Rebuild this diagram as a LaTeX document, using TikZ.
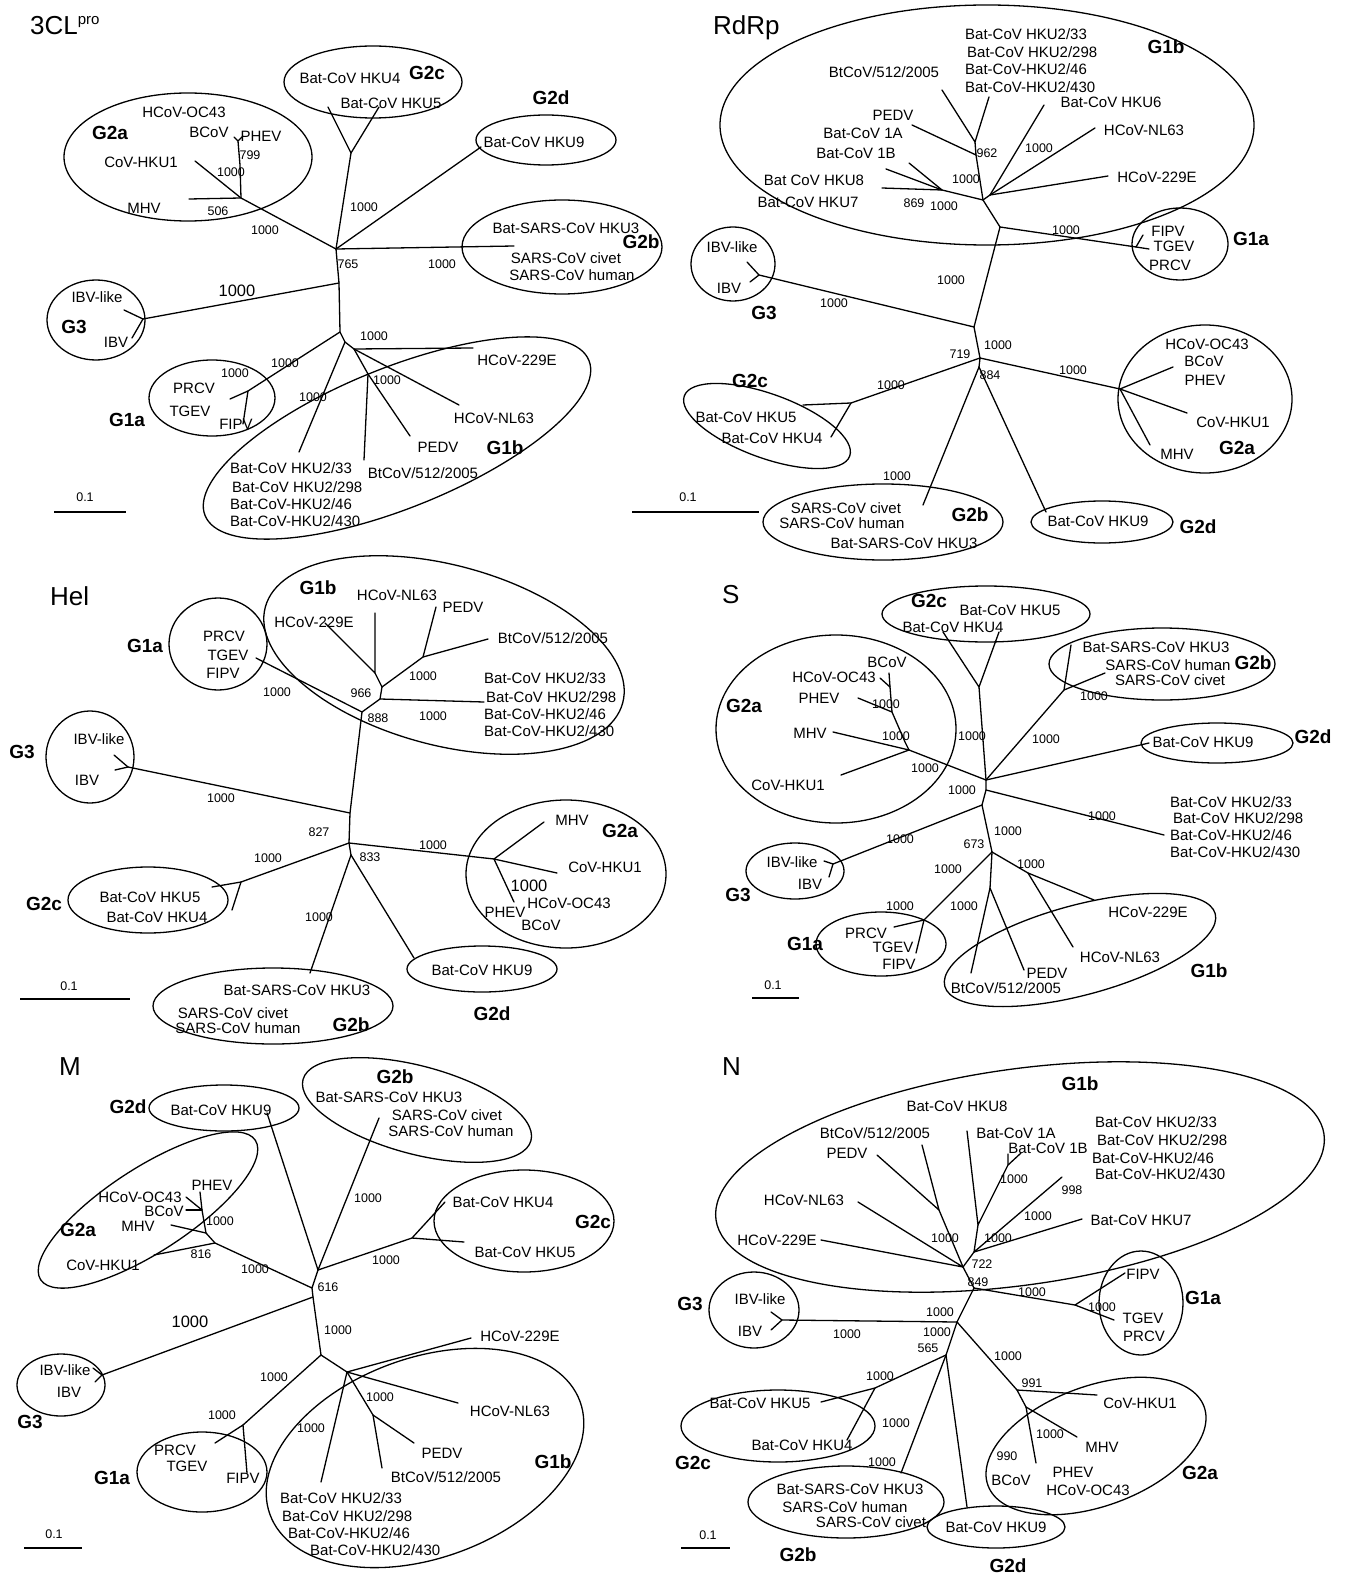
\documentclass[tikz,border=0pt]{standalone}
\usepackage{fontspec}
\setmainfont{Liberation Sans}
\newcommand\mylab[3]{\node[lbl] (#1) at (#2) {#3};}
\newcommand\mylabw[3]{\node[lbl,anchor=west] (#1) at (#2) {#3};}
\newcommand\mynum[3]{\node[num] (#1) at (#2) {#3};}
\newcommand\mygrp[3]{\node[grp] (#1) at (#2) {#3};}
\tikzset{
  br/.style={line width=1.3pt, line cap=round, line join=round},
  ell/.style={line width=1.3pt},
  lbl/.style={font=\fontsize{15}{17}\selectfont, inner sep=0pt},
  num/.style={font=\fontsize{12.5}{14}\selectfont, inner sep=0pt},
  bignum/.style={font=\fontsize{16.5}{18}\selectfont, inner sep=0pt},
  grp/.style={font=\fontsize{19}{21}\selectfont\bfseries, inner sep=0pt},
  ttl/.style={font=\fontsize{26}{28}\selectfont, inner sep=0pt, anchor=base west},
}
\begin{document}
\begin{tikzpicture}[x=1pt,y=-1pt]
\fill[white] (0,0) rectangle (1346,1578);
\useasboundingbox (0,0) rectangle (1346,1578);

%%%%%%%%%%%%%%%% Panel 1: 3CLpro
\node[ttl] (t1) at (30,35) {3CL{\fontsize{15}{17}\selectfont\raisebox{10pt}{pro}}};
\coordinate (a-A) at (336,249);
\coordinate (a-B) at (339,283);
\coordinate (a-C) at (340,332);
\coordinate (a-J1) at (241,198);
\coordinate (a-hku1) at (195,161);
\coordinate (a-mhv) at (189,199);
\coordinate (a-V1) at (240,165);
\coordinate (a-V2) at (238,141);
\coordinate (a-bcov) at (234,137);
\coordinate (a-phev) at (243,136);
\coordinate (a-K) at (351,153);
\coordinate (a-hku4) at (328,107);
\coordinate (a-hku5) at (379,107);
\coordinate (a-hku9) at (481,147);
\coordinate (a-sars) at (514,246);
\coordinate (a-G3) at (143,319);
\coordinate (a-ibvl) at (124,310);
\coordinate (a-ibv) at (132,338);
\coordinate (a-G1a) at (248,391);
\coordinate (a-prcv) at (230,399);
\coordinate (a-fipv) at (243,424);
\coordinate (a-D) at (345,342);
\coordinate (a-E) at (354,349);
\coordinate (a-F) at (368,374);
\coordinate (a-229e) at (473,348);
\coordinate (a-nl63) at (459,405);
\coordinate (a-pedv) at (410,436);
\coordinate (a-bt512) at (364,460);
\coordinate (a-hku2) at (299,452);
\draw[br] (a-hku1) -- (a-J1) -- (a-A) -- (a-B) -- (a-C) -- (a-D) -- (a-hku2);
\draw[br] (a-mhv) -- (a-J1) -- (a-V1) -- (a-V2) -- (a-bcov);
\draw[br] (a-V2) -- (a-phev);
\draw[br] (a-A) -- (a-K) -- (a-hku4);
\draw[br] (a-K) -- (a-hku5);
\draw[br] (a-A) -- (a-hku9);
\draw[br] (a-A) -- (a-sars);
\draw[br] (a-B) -- (a-G3) -- (a-ibvl);
\draw[br] (a-G3) -- (a-ibv);
\draw[br] (a-C) -- (a-G1a) -- (a-prcv);
\draw[br] (a-G1a) -- (a-fipv);
\draw[br] (a-D) -- (a-E) -- (a-229e);
\draw[br] (a-E) -- (a-nl63);
\draw[br] (a-E) -- (a-F) -- (a-pedv);
\draw[br] (a-F) -- (a-bt512);
\draw[ell] (188,157) ellipse [x radius=124pt, y radius=64pt];
\draw[ell] (373,82) ellipse [x radius=89pt, y radius=36pt];
\draw[ell] (546,140) ellipse [x radius=70pt, y radius=25pt];
\draw[ell] (562,247) ellipse [x radius=100pt, y radius=47pt];
\draw[ell] (96,320) ellipse [x radius=49pt, y radius=40pt];
\draw[ell] (212,398) ellipse [x radius=63pt, y radius=38pt];
\draw[ell, rotate around={22:(397,438)}] (397,438) ellipse [x radius=207pt, y radius=70pt];
\mylab{a-l1}{184,112}{HCoV-OC43}
\mylab{a-l2}{209,132}{BCoV}
\mylab{a-l3}{261,136}{PHEV}
\mylab{a-l4}{141,162}{CoV-HKU1}
\mylab{a-l5}{144,208}{MHV}
\mygrp{a-g1}{110,133}{G2a}
\mynum{a-n1}{250,155}{799}
\mynum{a-n2}{231,172}{1000}
\mynum{a-n3}{218,211}{506}
\mynum{a-n4}{265,230}{1000}
\mynum{a-n5}{364,207}{1000}
\mynum{a-n6}{348,264}{765}
\mynum{a-n7}{442,264}{1000}
\mylab{a-l6}{350,78}{Bat-CoV HKU4}
\mygrp{a-g2}{427,73}{G2c}
\mylab{a-l7}{391,103}{Bat-CoV HKU5}
\mygrp{a-g3}{551,98}{G2d}
\mylab{a-l8}{534,142}{Bat-CoV HKU9}
\mylab{a-l9}{566,228}{Bat-SARS-CoV HKU3}
\mylab{a-l10}{566,258}{SARS-CoV civet}
\mylab{a-l11}{572,275}{SARS-CoV human}
\mygrp{a-g4}{641,242}{G2b}
\mylab{a-l12}{97,297}{IBV-like}
\mylab{a-l13}{116,342}{IBV}
\mygrp{a-g5}{74,327}{G3}
\node[bignum] (a-n8) at (237,291) {1000};
\mynum{a-n9}{285,363}{1000}
\mynum{a-n10}{235,373}{1000}
\mylab{a-l14}{194,388}{PRCV}
\mylab{a-l15}{190,411}{TGEV}
\mylab{a-l16}{236,424}{FIPV}
\mygrp{a-g6}{127,420}{G1a}
\mylab{a-l17}{517,360}{HCoV-229E}
\mylab{a-l18}{494,418}{HCoV-NL63}
\mylab{a-l19}{438,447}{PEDV}
\mygrp{a-g7}{505,448}{G1b}
\mylab{a-l20}{423,473}{BtCoV/512/2005}
\mylabw{a-l21}{230,468}{Bat-CoV HKU2/33}
\mylabw{a-l22}{232,487}{Bat-CoV HKU2/298}
\mylabw{a-l23}{230,504}{Bat-CoV-HKU2/46}
\mylabw{a-l24}{230,521}{Bat-CoV-HKU2/430}
\mynum{a-n11}{313,397}{1000}
\mynum{a-n12}{387,380}{1000}
\mynum{a-n13}{374,336}{1000}
\coordinate (a-s1) at (54,512);
\coordinate (a-s2) at (126,512);
\draw[br, line cap=butt] (a-s1) -- (a-s2);
\mynum{a-sc}{85,497}{0.1}

%%%%%%%%%%%%%%%% Panel 2: RdRp
\node[ttl] (t2) at (713,35) {RdRp};
\coordinate (b-M1) at (983,200);
\coordinate (b-M1h) at (990,195);
\coordinate (b-M2) at (1000,227);
\coordinate (b-Q1) at (975,142);
\coordinate (b-bt512) at (942,90);
\coordinate (b-hku2) at (989,97);
\coordinate (b-Q2) at (976,155);
\coordinate (b-pedv) at (912,125);
\coordinate (b-hku6) at (1044,105);
\coordinate (b-nl63) at (1095,128);
\coordinate (b-229e) at (1108,176);
\coordinate (b-L1) at (942,190);
\coordinate (b-hku7) at (882,188);
\coordinate (b-hku8) at (886,169);
\coordinate (b-1ab) at (909,163);
\coordinate (b-G1a) at (1136,247);
\coordinate (b-fipv) at (1143,235);
\coordinate (b-tgev) at (1149,249);
\coordinate (b-S1) at (974,327);
\coordinate (b-G3) at (759,275);
\coordinate (b-ibvl) at (747,262);
\coordinate (b-ibv) at (750,282);
\coordinate (b-N) at (980,358);
\coordinate (b-N2) at (979,367);
\coordinate (b-G2a) at (1120,389);
\coordinate (b-bcov) at (1173,367);
\coordinate (b-hku1) at (1187,413);
\coordinate (b-mhv) at (1150,445);
\coordinate (b-G2c) at (851,403);
\coordinate (b-hku5) at (803,405);
\coordinate (b-hku4) at (831,437);
\coordinate (b-sars) at (923,505);
\coordinate (b-hku9) at (1046,512);
\draw[br] (b-bt512) -- (b-Q1) -- (b-hku2);
\draw[br] (b-Q1) -- (b-Q2) -- (b-pedv);
\draw[br] (b-Q2) -- (b-M1) -- (b-M2) -- (b-S1) -- (b-N) -- (b-N2);
\draw[br] (b-M1) -- (b-M1h) -- (b-hku6);
\draw[br] (b-M1h) -- (b-nl63);
\draw[br] (b-M1h) -- (b-229e);
\draw[br] (b-M1) -- (b-L1) -- (b-hku7);
\draw[br] (b-L1) -- (b-hku8);
\draw[br] (b-L1) -- (b-1ab);
\draw[br] (b-M2) -- (b-G1a) -- (b-fipv);
\draw[br] (b-G1a) -- (b-tgev);
\draw[br] (b-S1) -- (b-G3) -- (b-ibvl);
\draw[br] (b-G3) -- (b-ibv);
\draw[br] (b-N) -- (b-G2a) -- (b-bcov);
\draw[br] (b-G2a) -- (b-hku1);
\draw[br] (b-G2a) -- (b-mhv);
\draw[br] (b-N) -- (b-G2c) -- (b-hku5);
\draw[br] (b-G2c) -- (b-hku4);
\draw[br] (b-N2) -- (b-sars);
\draw[br] (b-N2) -- (b-hku9);
\draw[ell] (987,125) ellipse [x radius=267pt, y radius=120pt];
\draw[ell] (1180,244) ellipse [x radius=48pt, y radius=36pt];
\draw[ell] (733,264) ellipse [x radius=42pt, y radius=37pt];
\draw[ell] (1205,399) ellipse [x radius=87pt, y radius=74pt];
\draw[ell, rotate around={-20:(767,426)}] (767,426) ellipse [x radius=88pt, y radius=32pt];
\draw[ell] (883,522) ellipse [x radius=120pt, y radius=38pt];
\draw[ell] (1102,522) ellipse [x radius=71pt, y radius=21pt];
\mylabw{b-l1}{965,34}{Bat-CoV HKU2/33}
\mylabw{b-l2}{967,52}{Bat-CoV HKU2/298}
\mylabw{b-l3}{965,69}{Bat-CoV-HKU2/46}
\mylabw{b-l4}{965,87}{Bat-CoV-HKU2/430}
\mygrp{b-g1}{1166,47}{G1b}
\mylab{b-l5}{884,72}{BtCoV/512/2005}
\mylab{b-l6}{1111,102}{Bat-CoV HKU6}
\mylab{b-l7}{893,115}{PEDV}
\mylab{b-l8}{863,133}{Bat-CoV 1A}
\mylab{b-l9}{856,153}{Bat-CoV 1B}
\mylab{b-l10}{1144,130}{HCoV-NL63}
\mylab{b-l11}{814,180}{Bat CoV HKU8}
\mylab{b-l12}{1157,177}{HCoV-229E}
\mylab{b-l13}{808,202}{Bat-CoV HKU7}
\mynum{b-n1}{987,153}{962}
\mynum{b-n2}{1039,148}{1000}
\mynum{b-n3}{966,179}{1000}
\mynum{b-n4}{914,203}{869}
\mynum{b-n5}{944,206}{1000}
\mynum{b-n6}{1066,230}{1000}
\mylab{b-l14}{1168,231}{FIPV}
\mylab{b-l15}{1174,246}{TGEV}
\mylab{b-l16}{1170,265}{PRCV}
\mygrp{b-g2}{1251,239}{G1a}
\mylab{b-l17}{732,247}{IBV-like}
\mylab{b-l18}{729,288}{IBV}
\mygrp{b-g3}{764,313}{G3}
\mynum{b-n7}{834,303}{1000}
\mynum{b-n8}{951,280}{1000}
\mynum{b-n9}{960,354}{719}
\mynum{b-n10}{998,345}{1000}
\mynum{b-n11}{990,375}{884}
\mynum{b-n12}{1073,370}{1000}
\mylab{b-l19}{1207,344}{HCoV-OC43}
\mylab{b-l20}{1204,361}{BCoV}
\mylab{b-l21}{1205,380}{PHEV}
\mylab{b-l22}{1233,422}{CoV-HKU1}
\mylab{b-l23}{1177,454}{MHV}
\mygrp{b-g4}{1237,448}{G2a}
\mynum{b-n13}{891,385}{1000}
\mylab{b-l24}{746,417}{Bat-CoV HKU5}
\mylab{b-l25}{772,438}{Bat-CoV HKU4}
\mygrp{b-g5}{750,381}{G2c}
\mynum{b-n14}{897,476}{1000}
\mylab{b-l26}{846,508}{SARS-CoV civet}
\mylab{b-l27}{842,523}{SARS-CoV human}
\mylab{b-l28}{904,543}{Bat-SARS-CoV HKU3}
\mygrp{b-g6}{970,515}{G2b}
\mylab{b-l29}{1098,521}{Bat-CoV HKU9}
\mygrp{b-g7}{1198,527}{G2d}
\coordinate (b-s1) at (632,512);
\coordinate (b-s2) at (759,512);
\draw[br, line cap=butt] (b-s1) -- (b-s2);
\mynum{b-sc}{688,497}{0.1}

%%%%%%%%%%%%%%%% Panel 3: Hel
\node[ttl] (t3) at (50,605) {Hel};
\coordinate (c-H1) at (380,699);
\coordinate (c-hku2) at (484,702);
\coordinate (c-H2) at (382,687);
\coordinate (c-H2a) at (375,673);
\coordinate (c-nl63) at (375,613);
\coordinate (c-229e) at (325,623);
\coordinate (c-H3) at (423,657);
\coordinate (c-pedv) at (436,607);
\coordinate (c-bt512) at (488,639);
\coordinate (c-H0) at (362,712);
\coordinate (c-G1a) at (256,658);
\coordinate (c-T1) at (350,813);
\coordinate (c-G3) at (128,767);
\coordinate (c-ibvl) at (114,755);
\coordinate (c-ibv) at (115,770);
\coordinate (c-T2) at (349,843);
\coordinate (c-G2a) at (494,859);
\coordinate (c-mhv) at (544,822);
\coordinate (c-hku1) at (557,873);
\coordinate (c-oc43) at (514,902);
\coordinate (c-G2c) at (241,882);
\coordinate (c-hku5) at (212,887);
\coordinate (c-hku4) at (232,910);
\coordinate (c-T3) at (351,855);
\coordinate (c-sars) at (310,973);
\coordinate (c-hku9) at (414,958);
\draw[br] (c-229e) -- (c-H2a) -- (c-nl63);
\draw[br] (c-H2a) -- (c-H2) -- (c-H3) -- (c-pedv);
\draw[br] (c-H3) -- (c-bt512);
\draw[br] (c-H2) -- (c-H1) -- (c-hku2);
\draw[br] (c-H1) -- (c-H0) -- (c-G1a);
\draw[br] (c-H0) -- (c-T1) -- (c-T2) -- (c-T3);
\draw[br] (c-T1) -- (c-G3) -- (c-ibvl);
\draw[br] (c-G3) -- (c-ibv);
\draw[br] (c-T2) -- (c-G2a) -- (c-mhv);
\draw[br] (c-G2a) -- (c-hku1);
\draw[br] (c-G2a) -- (c-oc43);
\draw[br] (c-T2) -- (c-G2c) -- (c-hku5);
\draw[br] (c-G2c) -- (c-hku4);
\draw[br] (c-T3) -- (c-sars);
\draw[br] (c-T3) -- (c-hku9);
\draw[ell, rotate around={-15:(444,655)}] (444,655) ellipse [x radius=185pt, y radius=90pt];
\draw[ell] (218,644) ellipse [x radius=49pt, y radius=46pt];
\draw[ell] (90,757) ellipse [x radius=44pt, y radius=46pt];
\draw[ell] (566,874) ellipse [x radius=100pt, y radius=74pt];
\draw[ell] (148,900) ellipse [x radius=80pt, y radius=33pt];
\draw[ell] (273,1006) ellipse [x radius=120pt, y radius=38pt];
\draw[ell] (482,969) ellipse [x radius=75pt, y radius=23pt];
\mygrp{c-g1}{318,588}{G1b}
\mylab{c-l1}{397,595}{HCoV-NL63}
\mylab{c-l2}{463,607}{PEDV}
\mylab{c-l3}{314,622}{HCoV-229E}
\mylab{c-l4}{553,638}{BtCoV/512/2005}
\mylabw{c-l5}{484,678}{Bat-CoV HKU2/33}
\mylabw{c-l6}{486,697}{Bat-CoV HKU2/298}
\mylabw{c-l7}{484,714}{Bat-CoV-HKU2/46}
\mylabw{c-l8}{484,731}{Bat-CoV-HKU2/430}
\mynum{c-n1}{423,676}{1000}
\mynum{c-n2}{361,693}{966}
\mynum{c-n3}{378,718}{888}
\mynum{c-n4}{433,716}{1000}
\mynum{c-n5}{277,692}{1000}
\mylab{c-l9}{224,636}{PRCV}
\mylab{c-l10}{228,655}{TGEV}
\mylab{c-l11}{223,673}{FIPV}
\mygrp{c-g2}{145,646}{G1a}
\mylab{c-l12}{99,739}{IBV-like}
\mylab{c-l13}{87,780}{IBV}
\mygrp{c-g3}{22,752}{G3}
\mynum{c-n6}{221,798}{1000}
\mynum{c-n7}{319,832}{827}
\mynum{c-n8}{433,845}{1000}
\mynum{c-n9}{268,858}{1000}
\mynum{c-n10}{370,857}{833}
\mylab{c-l14}{572,820}{MHV}
\mygrp{c-g4}{620,831}{G2a}
\mylab{c-l15}{605,867}{CoV-HKU1}
\node[bignum] (c-n11) at (529,886) {1000};
\mylab{c-l16}{569,903}{HCoV-OC43}
\mylab{c-l17}{505,912}{PHEV}
\mylab{c-l18}{541,925}{BCoV}
\mylab{c-l19}{150,897}{Bat-CoV HKU5}
\mylab{c-l20}{157,917}{Bat-CoV HKU4}
\mygrp{c-g5}{44,904}{G2c}
\mynum{c-n12}{319,917}{1000}
\mylab{c-l21}{297,990}{Bat-SARS-CoV HKU3}
\mylab{c-l22}{233,1013}{SARS-CoV civet}
\mylab{c-l23}{238,1028}{SARS-CoV human}
\mygrp{c-g6}{351,1025}{G2b}
\mylab{c-l24}{482,970}{Bat-CoV HKU9}
\mygrp{c-g7}{492,1014}{G2d}
\coordinate (c-s1) at (20,999);
\coordinate (c-s2) at (130,999);
\draw[br, line cap=butt] (c-s1) -- (c-s2);
\mynum{c-sc}{69,986}{0.1}

%%%%%%%%%%%%%%%% Panel 4: S
\node[ttl] (t4) at (722,603) {S};
\coordinate (d-Z) at (986,780);
\coordinate (d-Zb) at (986,790);
\coordinate (d-Z2) at (982,805);
\coordinate (d-Z3) at (992,852);
\coordinate (d-K) at (979,687);
\coordinate (d-hku4) at (943,632);
\coordinate (d-hku5) at (999,632);
\coordinate (d-B) at (1064,690);
\coordinate (d-hku3) at (1071,645);
\coordinate (d-sars) at (1105,673);
\coordinate (d-hku9) at (1149,743);
\coordinate (d-W1) at (909,750);
\coordinate (d-hku1) at (841,775);
\coordinate (d-mhv) at (833,732);
\coordinate (d-W2) at (905,742);
\coordinate (d-W3) at (892,712);
\coordinate (d-phev) at (858,698);
\coordinate (d-W4) at (890,687);
\coordinate (d-oc43) at (880,678);
\coordinate (d-bcov) at (889,673);
\coordinate (d-hku2) at (1164,835);
\coordinate (d-G3) at (833,864);
\coordinate (d-ibvl) at (824,861);
\coordinate (d-ibv) at (829,877);
\coordinate (d-G1a) at (924,920);
\coordinate (d-prcv) at (894,927);
\coordinate (d-fipv) at (916,953);
\coordinate (d-Y1) at (990,888);
\coordinate (d-bt512) at (971,973);
\coordinate (d-pedv) at (1024,970);
\coordinate (d-Y2) at (1028,873);
\coordinate (d-229e) at (1094,900);
\coordinate (d-nl63) at (1073,947);
\draw[br] (d-hku4) -- (d-K) -- (d-hku5);
\draw[br] (d-K) -- (d-Z);
\draw[br] (d-hku3) -- (d-B) -- (d-sars);
\draw[br] (d-B) -- (d-Z);
\draw[br] (d-Z) -- (d-hku9);
\draw[br] (d-Z) -- (d-W1) -- (d-hku1);
\draw[br] (d-W1) -- (d-mhv);
\draw[br] (d-W1) -- (d-W2) -- (d-W3) -- (d-phev);
\draw[br] (d-W3) -- (d-W4) -- (d-oc43);
\draw[br] (d-W4) -- (d-bcov);
\draw[br] (d-Z) -- (d-Zb) -- (d-hku2);
\draw[br] (d-Zb) -- (d-Z2) -- (d-G3) -- (d-ibvl);
\draw[br] (d-G3) -- (d-ibv);
\draw[br] (d-Z2) -- (d-Z3) -- (d-G1a) -- (d-prcv);
\draw[br] (d-G1a) -- (d-fipv);
\draw[br] (d-Z3) -- (d-Y1) -- (d-bt512);
\draw[br] (d-Y1) -- (d-pedv);
\draw[br] (d-Z3) -- (d-Y2) -- (d-229e);
\draw[br] (d-Y2) -- (d-nl63);
\draw[ell] (986,614) ellipse [x radius=104pt, y radius=28pt];
\draw[ell] (1162,664) ellipse [x radius=113pt, y radius=36pt];
\draw[ell] (1217,743) ellipse [x radius=76pt, y radius=20pt];
\draw[ell] (836,729) ellipse [x radius=120pt, y radius=94pt];
\draw[ell] (795,871) ellipse [x radius=49pt, y radius=28pt];
\draw[ell] (881,944) ellipse [x radius=65pt, y radius=32pt];
\draw[ell, rotate around={15:(1080,950)}] (1080,950) ellipse [x radius=140pt, y radius=45pt];
\mygrp{d-g1}{929,601}{G2c}
\mylab{d-l1}{1010,610}{Bat-CoV HKU5}
\mylab{d-l2}{953,627}{Bat-CoV HKU4}
\mynum{d-n1}{972,736}{1000}
\mylab{d-l3}{1156,647}{Bat-SARS-CoV HKU3}
\mylab{d-l4}{1168,665}{SARS-CoV human}
\mylab{d-l5}{1170,680}{SARS-CoV civet}
\mygrp{d-g2}{1253,663}{G2b}
\mynum{d-n2}{1094,696}{1000}
\mynum{d-n3}{1046,739}{1000}
\mylab{d-l6}{1203,742}{Bat-CoV HKU9}
\mygrp{d-g3}{1313,737}{G2d}
\mylab{d-l7}{887,662}{BCoV}
\mylab{d-l8}{834,677}{HCoV-OC43}
\mylab{d-l9}{819,698}{PHEV}
\mygrp{d-g4}{744,706}{G2a}
\mylab{d-l10}{810,733}{MHV}
\mylab{d-l11}{788,785}{CoV-HKU1}
\mynum{d-n4}{886,704}{1000}
\mynum{d-n5}{896,736}{1000}
\mynum{d-n6}{925,768}{1000}
\mynum{d-n7}{962,790}{1000}
\mynum{d-n8}{1102,816}{1000}
\mylabw{d-l12}{1170,802}{Bat-CoV HKU2/33}
\mylabw{d-l13}{1173,818}{Bat-CoV HKU2/298}
\mylabw{d-l14}{1170,835}{Bat-CoV-HKU2/46}
\mylabw{d-l15}{1170,852}{Bat-CoV-HKU2/430}
\mylab{d-l16}{792,862}{IBV-like}
\mylab{d-l17}{810,884}{IBV}
\mygrp{d-g5}{738,895}{G3}
\mynum{d-n9}{900,839}{1000}
\mynum{d-n10}{1008,831}{1000}
\mynum{d-n11}{974,844}{673}
\mynum{d-n12}{948,869}{1000}
\mynum{d-n13}{900,906}{1000}
\mylab{d-l18}{866,933}{PRCV}
\mylab{d-l19}{893,947}{TGEV}
\mylab{d-l20}{899,964}{FIPV}
\mygrp{d-g6}{805,944}{G1a}
\mynum{d-n14}{964,906}{1000}
\mynum{d-n15}{1031,864}{1000}
\mylab{d-l21}{1148,912}{HCoV-229E}
\mylab{d-l22}{1120,957}{HCoV-NL63}
\mylab{d-l23}{1047,973}{PEDV}
\mylab{d-l24}{1006,988}{BtCoV/512/2005}
\mygrp{d-g7}{1209,971}{G1b}
\coordinate (d-s1) at (752,998);
\coordinate (d-s2) at (799,998);
\draw[br, line cap=butt] (d-s1) -- (d-s2);
\mynum{d-sc}{773,985}{0.1}

%%%%%%%%%%%%%%%% Panel 5: M
\node[ttl] (t5) at (59,1075) {M};
\coordinate (e-U1) at (318,1270);
\coordinate (e-U0) at (312,1288);
\coordinate (e-U3) at (313,1297);
\coordinate (e-V) at (321,1355);
\coordinate (e-hku9) at (267,1113);
\coordinate (e-sars) at (379,1118);
\coordinate (e-G2c) at (412,1238);
\coordinate (e-hku4) at (445,1202);
\coordinate (e-hku5) at (464,1242);
\coordinate (e-G) at (215,1243);
\coordinate (e-hku1) at (154,1255);
\coordinate (e-G1) at (206,1233);
\coordinate (e-mhv) at (171,1225);
\coordinate (e-G2) at (202,1210);
\coordinate (e-oc43) at (186,1197);
\coordinate (e-phev) at (200,1192);
\coordinate (e-bcov) at (186,1210);
\coordinate (e-G3) at (102,1375);
\coordinate (e-ibvl) at (93,1368);
\coordinate (e-ibv) at (95,1382);
\coordinate (e-G1a) at (243,1425);
\coordinate (e-prcv) at (215,1443);
\coordinate (e-fipv) at (247,1473);
\coordinate (e-K1) at (347,1372);
\coordinate (e-hku2) at (321,1482);
\coordinate (e-229e) at (471,1338);
\coordinate (e-nl63) at (458,1403);
\coordinate (e-K3) at (373,1415);
\coordinate (e-pedv) at (414,1443);
\coordinate (e-bt512) at (382,1468);
\draw[br] (e-hku9) -- (e-U1) -- (e-sars);
\draw[br] (e-U1) -- (e-G2c) -- (e-hku4);
\draw[br] (e-G2c) -- (e-hku5);
\draw[br] (e-U1) -- (e-U0) -- (e-G) -- (e-hku1);
\draw[br] (e-G) -- (e-G1) -- (e-mhv);
\draw[br] (e-G1) -- (e-G2) -- (e-oc43);
\draw[br] (e-G2) -- (e-phev);
\draw[br] (e-G2) -- (e-bcov);
\draw[br] (e-U0) -- (e-U3) -- (e-V);
\draw[br] (e-U3) -- (e-G3) -- (e-ibvl);
\draw[br] (e-G3) -- (e-ibv);
\draw[br] (e-V) -- (e-G1a) -- (e-prcv);
\draw[br] (e-G1a) -- (e-fipv);
\draw[br] (e-V) -- (e-K1) -- (e-hku2);
\draw[br] (e-K1) -- (e-229e);
\draw[br] (e-K1) -- (e-nl63);
\draw[br] (e-K1) -- (e-K3) -- (e-pedv);
\draw[br] (e-K3) -- (e-bt512);
\draw[ell] (224,1108) ellipse [x radius=75pt, y radius=23pt];
\draw[ell, rotate around={-15:(417,1110)}] (417,1110) ellipse [x radius=118pt, y radius=44pt];
\draw[ell] (524,1221) ellipse [x radius=90pt, y radius=51pt];
\draw[ell, rotate around={33:(148,1210)}] (148,1210) ellipse [x radius=128pt, y radius=42pt];
\draw[ell] (61,1385) ellipse [x radius=44pt, y radius=31pt];
\draw[ell] (202,1472) ellipse [x radius=65pt, y radius=40pt];
\draw[ell, rotate around={20:(425,1458)}] (425,1458) ellipse [x radius=165pt, y radius=100pt];
\mygrp{e-g1}{128,1107}{G2d}
\mylab{e-l1}{221,1110}{Bat-CoV HKU9}
\mygrp{e-g2}{395,1077}{G2b}
\mylab{e-l2}{389,1097}{Bat-SARS-CoV HKU3}
\mylab{e-l3}{447,1115}{SARS-CoV civet}
\mylab{e-l4}{451,1131}{SARS-CoV human}
\mynum{e-n1}{368,1198}{1000}
\mylab{e-l5}{503,1202}{Bat-CoV HKU4}
\mygrp{e-g3}{593,1222}{G2c}
\mylab{e-l6}{525,1252}{Bat-CoV HKU5}
\mynum{e-n2}{386,1260}{1000}
\mylab{e-l7}{212,1185}{PHEV}
\mylab{e-l8}{140,1197}{HCoV-OC43}
\mylab{e-l9}{164,1211}{BCoV}
\mylab{e-l10}{138,1226}{MHV}
\mygrp{e-g4}{78,1230}{G2a}
\mylab{e-l11}{103,1265}{CoV-HKU1}
\mynum{e-n3}{220,1221}{1000}
\mynum{e-n4}{201,1254}{816}
\mynum{e-n5}{255,1269}{1000}
\mynum{e-n6}{328,1287}{616}
\node[bignum] (e-n7) at (190,1322) {1000};
\mylab{e-l12}{65,1370}{IBV-like}
\mylab{e-l13}{69,1392}{IBV}
\mygrp{e-g5}{30,1422}{G3}
\mynum{e-n8}{338,1330}{1000}
\mynum{e-n9}{274,1377}{1000}
\mynum{e-n10}{222,1415}{1000}
\mylab{e-l14}{175,1450}{PRCV}
\mylab{e-l15}{187,1466}{TGEV}
\mylab{e-l16}{243,1478}{FIPV}
\mygrp{e-g6}{112,1478}{G1a}
\mylab{e-l17}{520,1336}{HCoV-229E}
\mylab{e-l18}{510,1411}{HCoV-NL63}
\mynum{e-n11}{380,1397}{1000}
\mynum{e-n12}{311,1428}{1000}
\mylab{e-l19}{442,1453}{PEDV}
\mylab{e-l20}{446,1477}{BtCoV/512/2005}
\mygrp{e-g7}{553,1462}{G1b}
\mylabw{e-l21}{280,1498}{Bat-CoV HKU2/33}
\mylabw{e-l22}{282,1516}{Bat-CoV HKU2/298}
\mylabw{e-l23}{288,1533}{Bat-CoV-HKU2/46}
\mylabw{e-l24}{310,1550}{Bat-CoV-HKU2/430}
\coordinate (e-s1) at (24,1548);
\coordinate (e-s2) at (82,1548);
\draw[br, line cap=butt] (e-s1) -- (e-s2);
\mynum{e-sc}{54,1534}{0.1}

%%%%%%%%%%%%%%%% Panel 6: N
\node[ttl] (t6) at (722,1075) {N};
\coordinate (f-P0) at (963,1267);
\coordinate (f-P1) at (974,1288);
\coordinate (f-P2) at (957,1322);
\coordinate (f-P4) at (946,1355);
\coordinate (f-P5) at (1017,1390);
\coordinate (f-Qa) at (939,1210);
\coordinate (f-pedv) at (877,1155);
\coordinate (f-bt512) at (922,1145);
\coordinate (f-Qb) at (978,1225);
\coordinate (f-hku8) at (967,1131);
\coordinate (f-Qc) at (1008,1165);
\coordinate (f-1a) at (1008,1154);
\coordinate (f-1b) at (1021,1153);
\coordinate (f-Qd) at (974,1252);
\coordinate (f-hku2) at (1062,1177);
\coordinate (f-hku7) at (1082,1219);
\coordinate (f-229e) at (821,1240);
\coordinate (f-nl63) at (858,1202);
\coordinate (f-G1a) at (1075,1305);
\coordinate (f-fipv) at (1125,1273);
\coordinate (f-tgev) at (1114,1320);
\coordinate (f-G3) at (782,1320);
\coordinate (f-ibvl) at (771,1312);
\coordinate (f-ibv) at (771,1330);
\coordinate (f-G2c) at (875,1388);
\coordinate (f-hku5) at (821,1402);
\coordinate (f-hku4) at (847,1440);
\coordinate (f-sars) at (901,1473);
\coordinate (f-hku9) at (967,1507);
\coordinate (f-hku1) at (1097,1395);
\coordinate (f-P6) at (1026,1407);
\coordinate (f-mhv) at (1077,1437);
\coordinate (f-P7) at (1036,1463);
\draw[br] (f-pedv) -- (f-Qa) -- (f-bt512);
\draw[br] (f-Qa) -- (f-P0);
\draw[br] (f-hku8) -- (f-Qb) -- (f-Qc) -- (f-1a);
\draw[br] (f-Qc) -- (f-1b);
\draw[br] (f-Qb) -- (f-Qd) -- (f-hku2);
\draw[br] (f-Qd) -- (f-hku7);
\draw[br] (f-Qd) -- (f-P0);
\draw[br] (f-229e) -- (f-P0) -- (f-nl63);
\draw[br] (f-P0) -- (f-P1) -- (f-G1a) -- (f-fipv);
\draw[br] (f-G1a) -- (f-tgev);
\draw[br] (f-P1) -- (f-P2) -- (f-G3) -- (f-ibvl);
\draw[br] (f-G3) -- (f-ibv);
\draw[br] (f-P2) -- (f-P4) -- (f-G2c) -- (f-hku5);
\draw[br] (f-G2c) -- (f-hku4);
\draw[br] (f-P4) -- (f-sars);
\draw[br] (f-P4) -- (f-hku9);
\draw[br] (f-P2) -- (f-P5) -- (f-hku1);
\draw[br] (f-P5) -- (f-P6) -- (f-mhv);
\draw[br] (f-P6) -- (f-P7);
\draw[ell, rotate around={8:(1020,1177)}] (1020,1177) ellipse [x radius=307pt, y radius=108pt];
\draw[ell] (1141,1303) ellipse [x radius=42pt, y radius=52pt];
\draw[ell] (754,1310) ellipse [x radius=45pt, y radius=38pt];
\draw[ell] (778,1426) ellipse [x radius=97pt, y radius=36pt];
\draw[ell] (846,1502) ellipse [x radius=98pt, y radius=36pt];
\draw[ell] (996,1527) ellipse [x radius=69pt, y radius=21pt];
\draw[ell, rotate around={20:(1096,1446)}] (1096,1446) ellipse [x radius=115pt, y radius=60pt];
\mygrp{f-g1}{1080,1084}{G1b}
\mylab{f-l1}{957,1106}{Bat-CoV HKU8}
\mylab{f-l2}{875,1133}{BtCoV/512/2005}
\mylab{f-l3}{1016,1133}{Bat-CoV 1A}
\mylab{f-l4}{1048,1148}{Bat-CoV 1B}
\mylab{f-l5}{847,1153}{PEDV}
\mylab{f-l6}{804,1200}{HCoV-NL63}
\mylab{f-l7}{777,1240}{HCoV-229E}
\mylabw{f-l8}{1095,1122}{Bat-CoV HKU2/33}
\mylabw{f-l9}{1097,1140}{Bat-CoV HKU2/298}
\mylabw{f-l10}{1092,1158}{Bat-CoV-HKU2/46}
\mylabw{f-l11}{1095,1174}{Bat-CoV-HKU2/430}
\mylab{f-l12}{1141,1220}{Bat-CoV HKU7}
\mynum{f-n1}{1014,1179}{1000}
\mynum{f-n2}{1072,1190}{998}
\mynum{f-n3}{1038,1216}{1000}
\mynum{f-n4}{945,1238}{1000}
\mynum{f-n5}{998,1238}{1000}
\mynum{f-n6}{982,1264}{722}
\mynum{f-n7}{978,1282}{849}
\mynum{f-n8}{1032,1292}{1000}
\mynum{f-n9}{1102,1307}{1000}
\mylab{f-l13}{1143,1274}{FIPV}
\mygrp{f-g2}{1203,1298}{G1a}
\mylab{f-l14}{1143,1318}{TGEV}
\mylab{f-l15}{1144,1336}{PRCV}
\mylab{f-l16}{760,1299}{IBV-like}
\mylab{f-l17}{750,1331}{IBV}
\mygrp{f-g3}{690,1304}{G3}
\mynum{f-n10}{940,1312}{1000}
\mynum{f-n11}{847,1334}{1000}
\mynum{f-n12}{937,1332}{1000}
\mynum{f-n13}{928,1348}{565}
\mynum{f-n14}{880,1376}{1000}
\mylab{f-l18}{760,1403}{Bat-CoV HKU5}
\mylab{f-l19}{802,1445}{Bat-CoV HKU4}
\mygrp{f-g4}{693,1463}{G2c}
\mynum{f-n15}{896,1423}{1000}
\mynum{f-n16}{882,1462}{1000}
\mylab{f-l20}{850,1489}{Bat-SARS-CoV HKU3}
\mylab{f-l21}{845,1507}{SARS-CoV human}
\mylab{f-l22}{871,1522}{SARS-CoV civet}
\mygrp{f-g5}{798,1555}{G2b}
\mylab{f-l23}{996,1527}{Bat-CoV HKU9}
\mygrp{f-g6}{1008,1566}{G2d}
\mynum{f-n17}{1008,1356}{1000}
\mynum{f-n18}{1032,1383}{991}
\mylab{f-l24}{1140,1403}{CoV-HKU1}
\mylab{f-l25}{1102,1447}{MHV}
\mynum{f-n19}{1050,1434}{1000}
\mynum{f-n20}{1007,1456}{990}
\mylab{f-l26}{1073,1472}{PHEV}
\mylab{f-l27}{1011,1480}{BCoV}
\mylab{f-l28}{1088,1490}{HCoV-OC43}
\mygrp{f-g7}{1200,1473}{G2a}
\coordinate (f-s1) at (681,1548);
\coordinate (f-s2) at (730,1548);
\draw[br, line cap=butt] (f-s1) -- (f-s2);
\mynum{f-sc}{708,1535}{0.1}
\end{tikzpicture}
\end{document}
